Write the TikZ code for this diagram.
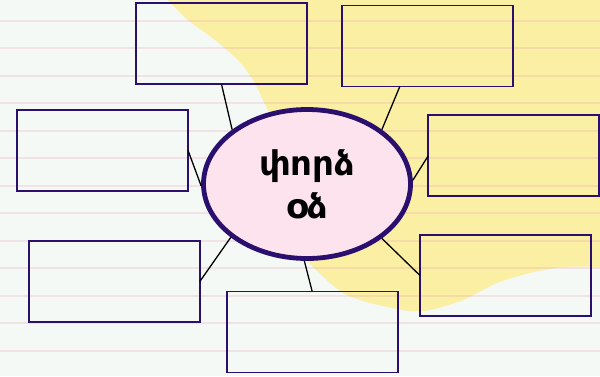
\documentclass[tikz,border=0pt]{standalone}
\usepackage{fontspec}
\newfontfamily\armfont{DejaVu Sans}
\usetikzlibrary{shapes,calc}

\definecolor{paper}{HTML}{F4F9F6}
\definecolor{sun}{HTML}{FAEFA3}
\definecolor{rule}{HTML}{E8A0B8}
\definecolor{ink}{HTML}{2A0F6E}
\definecolor{blush}{HTML}{FDE3EE}

\begin{document}
\begin{tikzpicture}[x=1pt,y=-1pt,
  block/.style={draw=ink,line width=1.8pt,rectangle,minimum width=171pt,minimum height=81pt,inner sep=0pt,outer sep=0pt},
  hub/.style={ellipse,draw=ink,line width=4.8pt,fill=blush,minimum width=207pt,minimum height=149pt,
    align=center,font=\armfont\bfseries\fontsize{34}{43}\selectfont},
  link/.style={line width=1.3pt,black}]

        \useasboundingbox (0,0) rectangle (600,376);
        \fill[paper] (0,0) rectangle (600,376);

        % yellow patch
        \fill[sun] (168,0) -- (600,0) -- (600,267)
          -- plot[smooth] coordinates {(600,267) (563,267) (530,273) (497,283) (463,300) (430,310) (410,311)
                                       (393,308) (370,303) (347,295) (330,283) (308,262)}
          -- (270,112)
          -- plot[smooth] coordinates {(268,110) (263,100) (253,80) (238,60) (215,40) (188,20) (168,0)}
          -- cycle;

        % ruled lines
        \foreach \k in {0,...,12}
          \draw[rule,opacity=0.25,line width=1.8pt] (0,20.7+27.5*\k) -- (600,20.7+27.5*\k);

        \node[block] (A) at (221.5,43.7) {};
        \node[block] (B) at (427.8,46) {};
        \node[block] (C) at (102.5,150.3) {};
        \node[block] (D) at (513.8,155.7) {};
        \node[block] (E) at (114.3,281.5) {};
        \node[block] (F) at (312.2,332) {};
        \node[block] (G) at (505.5,275.5) {};

        \node[hub] (H) at (307,184) {փորձ\\օձ};

        \draw[link] (A.south) -- (H.144);
        \draw[link] ([xshift=-28pt]B.south) -- (H.36);
        \draw[link] (C.east) -- (H.181);
        \draw[link] (D.west) -- (H.2);
        \draw[link] (E.east) -- (H.215);
        \draw[link] (F.north) -- (H.268);
        \draw[link] (G.west) -- (H.-36);
      \end{tikzpicture}
\end{document}
